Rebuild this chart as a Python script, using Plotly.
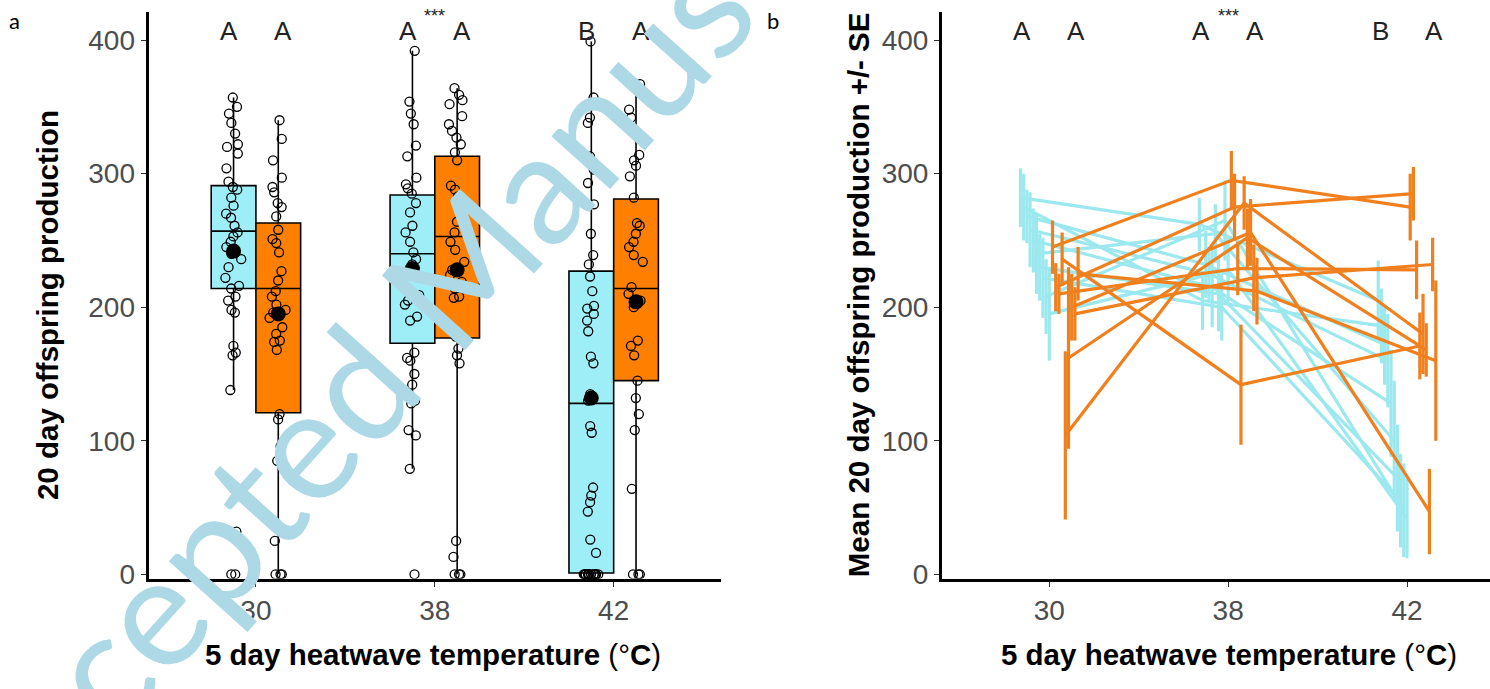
import plotly.graph_objects as go
import numpy as np

# ---------------- data ----------------
temps = ["30", "38", "42"]
cat_pos = [1, 2, 3]

cyan_30 = [357, 350, 345, 338, 330, 322, 320, 315, 304, 294, 290, 288, 282, 276, 270, 267, 261,
           256, 253, 249, 245, 240, 236, 230, 222, 216, 214, 208, 205, 198, 196, 171, 166, 164,
           138, 32, 0, 0]
orange_30 = [340, 326, 310, 297, 290, 286, 278, 275, 268, 258, 251, 248, 241, 227, 220, 212, 208,
             202, 198, 196, 192, 185, 180, 175, 174, 168, 120, 116, 96, 85, 25, 0, 0, 0]
cyan_38 = [392, 354, 345, 337, 321, 313, 297, 292, 289, 285, 278, 271, 261, 256, 249, 241, 236,
           232, 228, 226, 224, 209, 205, 202, 193, 190, 166, 162, 160, 150, 142, 130, 128, 108,
           104, 79, 0]
orange_38 = [364, 359, 355, 352, 343, 337, 332, 327, 322, 316, 310, 291, 288, 283, 273, 264, 256,
             249, 243, 234, 228, 224, 219, 214, 208, 207, 178, 169, 164, 158, 25, 13, 0, 0, 0]
cyan_42 = [399, 357, 342, 338, 313, 308, 303, 293, 277, 255, 239, 232, 223, 212, 201, 199, 195,
           190, 182, 163, 158, 135, 133, 130, 111, 106, 65, 59, 54, 47, 26, 16,
           0, 0, 0, 0, 0, 0, 0, 0, 0, 0, 0, 0, 0, 0, 0]
orange_42 = [370, 367, 348, 342, 330, 314, 310, 306, 298, 282, 263, 261, 255, 249, 245, 239, 234,
             215, 210, 205, 200, 175, 171, 164, 145, 132, 120, 108, 64, 0, 0, 0]

# panel a: box statistics
cyan_q1 = [214, 173, 1]
cyan_med = [257, 240, 128]
cyan_q3 = [291, 284, 227]
cyan_lo = [138, 79, 0]
cyan_hi = [357, 392, 399]
cyan_mean = [242, 229, 132]
orange_q1 = [121, 177, 145]
orange_med = [214, 253, 214]
orange_q3 = [263, 313, 281]
orange_lo = [0, 0, 0]
orange_hi = [340, 364, 371]
orange_mean = [195, 228, 204]

letters_cyan = ["A", "A", "B"]
letters_orange = ["A", "A", "A"]

# panel b: line means and SE per clone (30, 38, 42)
cyan_lines_mean = [
    [282, 262, 205], [275, 205, 186], [268, 232, 172], [258, 225, 160], [250, 215, 128],
    [240, 255, 100], [230, 210, 72], [222, 200, 55], [208, 265, 48], [195, 228, 42],
]
cyan_lines_se = [
    [22, 20, 30], [25, 22, 28], [20, 25, 30], [28, 20, 35], [24, 30, 40],
    [30, 22, 45], [25, 28, 40], [30, 25, 35], [28, 30, 35], [35, 25, 30],
]
orange_lines_mean = [
    [245, 295, 275], [215, 275, 285], [210, 229, 228], [236, 142, 171], [104, 278, 180],
    [162, 252, 168], [200, 256, 47], [195, 222, 232], [225, 212, 160],
]
orange_lines_se = [
    [20, 22, 25], [18, 25, 20], [15, 20, 22], [20, 45, 25], [63, 20, 30],
    [68, 22, 20], [25, 25, 32], [20, 25, 20], [20, 25, 60],
]

CYAN_FILL = "#9EEEF8"
ORANGE_FILL = "#FF8000"
CYAN_LINE = "#9BE8EE"
ORANGE_LINE = "#F07F1E"

W, H = 1490, 689
def px_x(p):
    return p / W
def px_y(p):
    return 1 - p / H

fig = go.Figure()
dodge = 0.125
bw = 0.25

groups = [
    ([1 - dodge, 2 - dodge, 3 - dodge], [cyan_30, cyan_38, cyan_42], cyan_q1, cyan_med, cyan_q3,
     cyan_lo, cyan_hi, cyan_mean, CYAN_FILL),
    ([1 + dodge, 2 + dodge, 3 + dodge], [orange_30, orange_38, orange_42], orange_q1, orange_med,
     orange_q3, orange_lo, orange_hi, orange_mean, ORANGE_FILL),
]
for xs, raw, q1, med, q3, lo, hi, mn, fill in groups:
    fig.add_trace(go.Box(
        x=xs, q1=q1, median=med, q3=q3, lowerfence=lo, upperfence=hi,
        width=bw, fillcolor=fill, line=dict(color="black", width=1.6),
        whiskerwidth=0, boxpoints=False, showlegend=False, hoverinfo="skip",
        xaxis="x", yaxis="y"))
for xs, raw, q1, med, q3, lo, hi, mn, fill in groups:
    for xpos, vals in zip(xs, raw):
        fig.add_trace(go.Box(
            x=[xpos] * len(vals), y=vals, width=bw, boxpoints="all", jitter=0.4, pointpos=0,
            fillcolor="rgba(0,0,0,0)", line=dict(color="rgba(0,0,0,0)", width=0),
            marker=dict(symbol="circle-open", size=9, color="black", line=dict(width=1.3)),
            showlegend=False, hoverinfo="skip", xaxis="x", yaxis="y"))
    fig.add_trace(go.Scatter(
        x=xs, y=mn, mode="markers", marker=dict(size=15, color="black"),
        showlegend=False, hoverinfo="skip", xaxis="x", yaxis="y"))

# panel b
n_groups = len(cyan_lines_mean) + len(orange_lines_mean)
dw = 0.34
offsets = [-dw / 2 + dw * (k + 0.5) / n_groups for k in range(n_groups)]
k = 0
for means, ses, col in [(cyan_lines_mean, cyan_lines_se, CYAN_LINE),
                        (orange_lines_mean, orange_lines_se, ORANGE_LINE)]:
    for m, s in zip(means, ses):
        d = offsets[k]
        k += 1
        fig.add_trace(go.Scatter(
            x=[p + d for p in cat_pos], y=m, mode="lines",
            line=dict(color=col, width=3.2),
            error_y=dict(type="data", array=s, visible=True, thickness=3.2, width=0, color=col),
            showlegend=False, hoverinfo="skip", xaxis="x2", yaxis="y2"))

ydom = [1 - 588 / H, 1 - 11.7 / H]
yrange = [-3.2, 421.4]
axis_common = dict(showline=True, linecolor="black", linewidth=3, ticks="outside", ticklen=5,
                   tickcolor="#333333", tickwidth=1.2, showgrid=False, zeroline=False,
                   tickfont=dict(family="Liberation Sans, Arial", size=28, color="#4D4D4D"))

fig.update_layout(
    width=W, height=H, margin=dict(l=0, r=0, t=0, b=0),
    plot_bgcolor="white", paper_bgcolor="white", boxmode="overlay",
    xaxis=dict(domain=[148.6 / W, 721 / W], range=[0.4, 3.6], tickvals=cat_pos, ticktext=temps,
               anchor="y", **axis_common),
    yaxis=dict(domain=ydom, range=yrange, tickvals=[0, 100, 200, 300, 400], anchor="x",
               **axis_common),
    xaxis2=dict(domain=[942 / W, 1.0], range=[0.4, 3.464], tickvals=cat_pos, ticktext=temps,
                anchor="y2", **axis_common),
    yaxis2=dict(domain=ydom, range=yrange, tickvals=[0, 100, 200, 300, 400], anchor="x2",
                **axis_common),
)

title_font = dict(family="Liberation Sans, Arial", size=29.5, color="black")
C = dict(xanchor="center", yanchor="middle", showarrow=False)
ann = []
ann.append(dict(x=px_x(47), y=px_y(310), xref="paper", yref="paper", textangle=-90,
                text="<b>20 day offspring production</b>", font=title_font, **C))
ann.append(dict(x=px_x(858), y=px_y(300), xref="paper", yref="paper", textangle=-90,
                text="<b>Mean 20 day offspring production +/- SE</b>", font=title_font, **C))
for cx in [433, 1229]:
    ann.append(dict(x=px_x(cx), y=px_y(665), xref="paper", yref="paper",
                    text="<b>5 day heatwave temperature </b>(°<b>C</b>)", font=title_font, **C))
letter_font = dict(family="Liberation Sans, Arial", size=26, color="#222222")
for xr, yr in [("x", "y"), ("x2", "y2")]:
    for i, p in enumerate(cat_pos):
        ann.append(dict(x=p - 0.15, y=407, xref=xr, yref=yr, text=letters_cyan[i],
                        font=letter_font, **C))
        ann.append(dict(x=p + 0.15, y=407, xref=xr, yref=yr, text=letters_orange[i],
                        font=letter_font, **C))
    ann.append(dict(x=2, y=418, xref=xr, yref=yr, text="***",
                    font=dict(family="Liberation Sans, Arial", size=18, color="#222222"), **C))
ann.append(dict(x=px_x(15), y=px_y(21), xref="paper", yref="paper", text="a",
                font=dict(family="Lato, Liberation Sans", size=22, color="black"), **C))
ann.append(dict(x=px_x(773), y=px_y(21), xref="paper", yref="paper", text="b",
                font=dict(family="Lato, Liberation Sans", size=22, color="black"), **C))
ann.append(dict(x=px_x(440), y=px_y(292), xref="paper", yref="paper", text="Accepted Manuscript",
                textangle=-48, font=dict(family="Lato, Liberation Sans", size=156,
                                         color="#ADD8E6"), **C))
fig.update_layout(annotations=ann)

fig.write_html("out.html")
